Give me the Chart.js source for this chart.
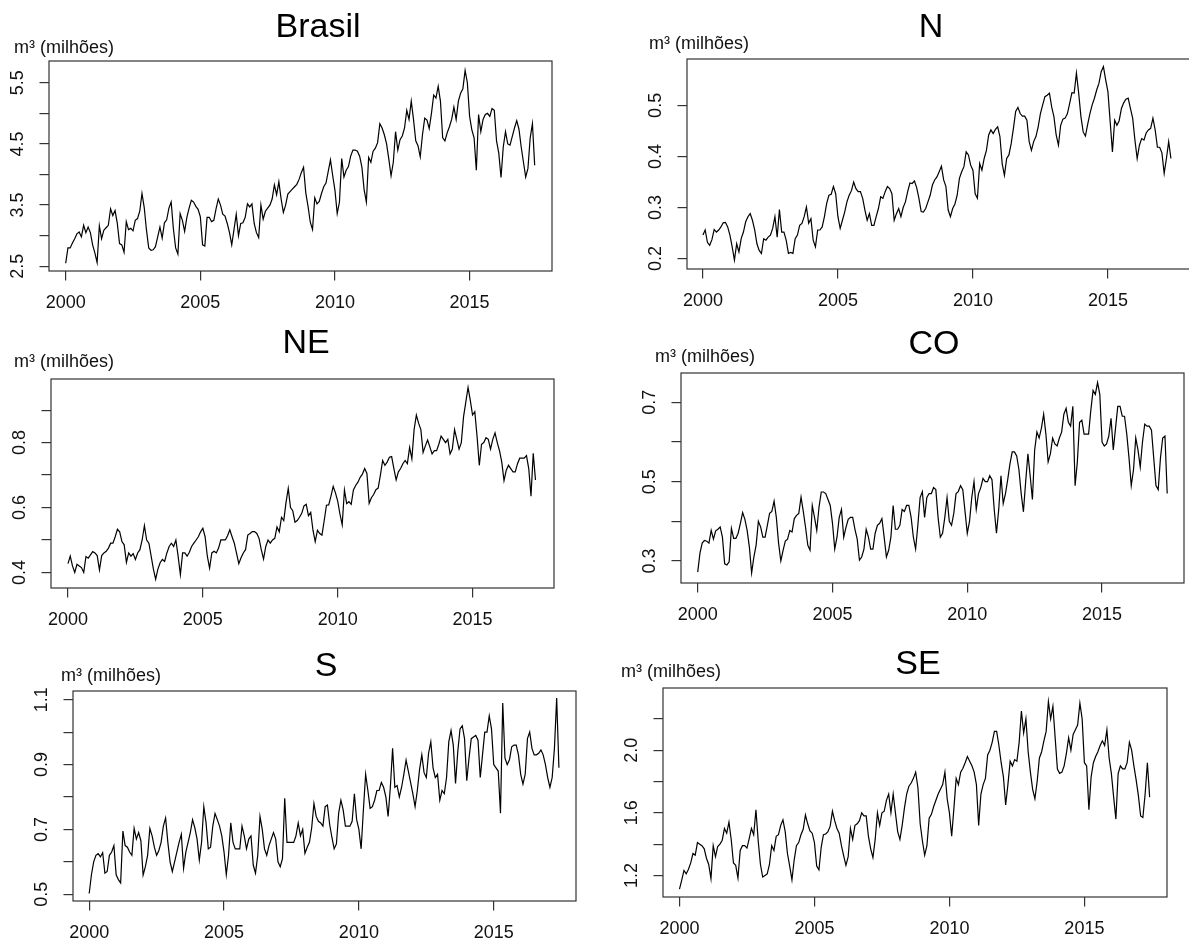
<!DOCTYPE html>
<html lang="pt-BR">
<head>
<meta charset="utf-8">
<title>Consumo mensal por região</title>
<script src="https://cdn.jsdelivr.net/npm/chart.js@4.4.1/dist/chart.umd.min.js"></script>
<style>
  html, body { margin: 0; background: #fff; }
  #page { position: relative; width: 1189px; height: 947px; overflow: hidden; background: #fff; }
  #page canvas { position: absolute; }
</style>
</head>
<body>
<div id="page"></div>
<script>
// séries mensais a partir de jan/2000, em milhões de m³
const START_YEAR = 2000;
const yearTicks = [2000, 2005, 2010, 2015];

const brasil = [
  2.55,2.80,2.80,2.88,2.95,3.03,3.06,2.98,3.17,3.05,3.14,3.05,
  2.85,2.72,2.56,3.16,2.95,3.09,3.13,3.17,3.44,3.33,3.41,3.20,
  2.87,2.85,2.73,3.23,3.10,3.12,3.08,3.25,3.28,3.40,3.69,3.46,
  3.09,2.80,2.76,2.77,2.82,2.98,3.14,2.96,3.21,3.26,3.45,3.55,
  3.11,2.80,2.70,3.36,3.25,3.07,3.30,3.45,3.58,3.55,3.48,3.43,
  3.31,2.85,2.83,3.30,3.30,3.23,3.25,3.44,3.60,3.50,3.35,3.32,
  3.20,3.05,2.85,3.10,3.35,3.00,3.20,3.21,3.30,3.52,3.47,3.52,
  3.20,3.05,2.97,3.50,3.27,3.40,3.45,3.50,3.60,3.83,3.67,3.88,
  3.60,3.38,3.50,3.68,3.72,3.76,3.80,3.84,3.92,4.03,4.12,3.70,
  3.48,3.22,3.10,3.62,3.52,3.56,3.69,3.80,3.86,4.05,4.24,3.98,
  3.74,3.36,3.55,4.26,3.96,4.07,4.13,4.30,4.40,4.40,4.38,4.30,
  4.12,3.75,3.55,4.28,4.20,4.38,4.43,4.52,4.83,4.76,4.65,4.50,
  4.25,3.98,4.20,4.70,4.40,4.57,4.63,4.76,5.05,4.90,5.20,4.90,
  4.55,4.47,4.29,4.65,4.92,4.89,4.75,5.00,5.30,5.25,5.44,5.20,
  4.60,4.55,4.68,4.78,4.90,5.10,4.90,5.20,5.33,5.40,5.70,5.50,
  4.95,4.73,4.60,4.07,4.98,4.70,4.90,4.98,5.00,4.95,5.08,5.05,
  4.55,4.35,3.95,4.45,4.70,4.50,4.48,4.62,4.76,4.88,4.74,4.45,
  4.20,3.96,4.10,4.60,4.83,4.15
];

const norte = [
  0.246,0.256,0.232,0.226,0.237,0.257,0.252,0.256,0.262,0.270,0.271,0.262,
  0.246,0.223,0.197,0.229,0.213,0.239,0.252,0.272,0.282,0.288,0.275,0.256,
  0.229,0.216,0.210,0.239,0.236,0.242,0.246,0.259,0.282,0.242,0.296,0.252,
  0.252,0.236,0.210,0.212,0.210,0.239,0.246,0.265,0.269,0.282,0.301,0.269,
  0.278,0.236,0.223,0.256,0.256,0.262,0.282,0.308,0.324,0.326,0.341,0.327,
  0.282,0.259,0.275,0.291,0.311,0.324,0.333,0.350,0.337,0.331,0.331,0.318,
  0.295,0.275,0.288,0.265,0.265,0.282,0.298,0.321,0.318,0.331,0.341,0.337,
  0.327,0.275,0.288,0.298,0.282,0.300,0.311,0.331,0.348,0.347,0.352,0.339,
  0.318,0.292,0.291,0.298,0.311,0.324,0.344,0.354,0.360,0.370,0.381,0.354,
  0.341,0.295,0.282,0.298,0.307,0.324,0.357,0.370,0.380,0.409,0.403,0.383,
  0.373,0.327,0.318,0.386,0.373,0.396,0.412,0.442,0.452,0.445,0.453,0.458,
  0.439,0.386,0.363,0.396,0.403,0.425,0.455,0.488,0.496,0.484,0.479,0.479,
  0.471,0.429,0.412,0.429,0.439,0.458,0.484,0.501,0.517,0.520,0.524,0.497,
  0.478,0.442,0.422,0.461,0.473,0.475,0.484,0.504,0.525,0.524,0.563,0.524,
  0.478,0.448,0.440,0.463,0.484,0.501,0.514,0.530,0.543,0.566,0.576,0.550,
  0.527,0.468,0.409,0.471,0.461,0.470,0.494,0.505,0.512,0.514,0.494,0.475,
  0.432,0.396,0.422,0.435,0.432,0.446,0.452,0.455,0.475,0.452,0.418,0.418,
  0.407,0.367,0.396,0.429,0.396
];

const nordeste = [
  0.427,0.450,0.420,0.400,0.425,0.420,0.415,0.400,0.449,0.444,0.454,0.464,
  0.460,0.452,0.408,0.452,0.460,0.465,0.475,0.490,0.490,0.510,0.533,0.525,
  0.495,0.485,0.431,0.460,0.450,0.458,0.440,0.460,0.470,0.500,0.544,0.500,
  0.490,0.450,0.410,0.379,0.410,0.430,0.440,0.434,0.460,0.480,0.490,0.480,
  0.500,0.450,0.393,0.460,0.460,0.450,0.462,0.480,0.490,0.500,0.510,0.525,
  0.536,0.510,0.450,0.413,0.460,0.465,0.460,0.475,0.500,0.500,0.500,0.513,
  0.531,0.510,0.490,0.459,0.427,0.445,0.460,0.470,0.515,0.520,0.526,0.526,
  0.520,0.505,0.470,0.441,0.480,0.500,0.490,0.500,0.505,0.540,0.525,0.570,
  0.560,0.615,0.659,0.600,0.590,0.555,0.560,0.570,0.582,0.605,0.610,0.575,
  0.585,0.530,0.495,0.530,0.520,0.515,0.560,0.607,0.608,0.635,0.665,0.645,
  0.620,0.580,0.547,0.654,0.612,0.618,0.610,0.654,0.668,0.678,0.693,0.703,
  0.720,0.705,0.613,0.630,0.640,0.655,0.660,0.700,0.745,0.730,0.740,0.755,
  0.757,0.720,0.685,0.710,0.720,0.735,0.745,0.735,0.785,0.750,0.840,0.885,
  0.860,0.840,0.770,0.790,0.808,0.787,0.765,0.775,0.775,0.795,0.820,0.810,
  0.800,0.810,0.765,0.780,0.840,0.810,0.780,0.800,0.880,0.925,0.970,0.930,
  0.885,0.895,0.820,0.730,0.795,0.800,0.815,0.810,0.780,0.810,0.830,0.800,
  0.775,0.740,0.683,0.715,0.730,0.720,0.710,0.710,0.735,0.752,0.752,0.752,
  0.760,0.720,0.635,0.767,0.685
];

const centroOeste = [
  0.272,0.320,0.345,0.352,0.350,0.345,0.377,0.355,0.376,0.380,0.386,0.360,
  0.293,0.290,0.298,0.382,0.357,0.357,0.370,0.395,0.422,0.405,0.377,0.335,
  0.270,0.310,0.340,0.400,0.386,0.360,0.360,0.390,0.420,0.425,0.451,0.410,
  0.345,0.300,0.327,0.350,0.355,0.377,0.373,0.407,0.415,0.420,0.461,0.425,
  0.385,0.340,0.327,0.440,0.410,0.377,0.436,0.474,0.474,0.470,0.455,0.440,
  0.395,0.330,0.360,0.410,0.430,0.360,0.385,0.405,0.410,0.410,0.380,0.355,
  0.302,0.310,0.330,0.380,0.360,0.330,0.330,0.370,0.390,0.395,0.407,0.360,
  0.310,0.327,0.360,0.440,0.380,0.380,0.390,0.430,0.425,0.440,0.440,0.410,
  0.360,0.330,0.390,0.460,0.475,0.410,0.460,0.470,0.470,0.485,0.480,0.410,
  0.360,0.370,0.410,0.460,0.400,0.390,0.420,0.470,0.475,0.490,0.480,0.425,
  0.370,0.400,0.460,0.500,0.430,0.470,0.485,0.508,0.500,0.500,0.515,0.505,
  0.430,0.370,0.430,0.515,0.445,0.470,0.505,0.545,0.575,0.575,0.565,0.530,
  0.470,0.424,0.500,0.570,0.515,0.455,0.580,0.625,0.610,0.635,0.670,0.620,
  0.550,0.570,0.610,0.595,0.590,0.610,0.625,0.670,0.685,0.650,0.640,0.690,
  0.490,0.550,0.650,0.655,0.620,0.620,0.620,0.680,0.730,0.720,0.750,0.720,
  0.600,0.590,0.595,0.615,0.660,0.580,0.635,0.690,0.690,0.665,0.665,0.620,
  0.560,0.490,0.530,0.610,0.580,0.537,0.600,0.645,0.640,0.640,0.630,0.560,
  0.490,0.480,0.560,0.610,0.615,0.470
];

const sul = [
  0.502,0.560,0.600,0.620,0.625,0.615,0.628,0.565,0.570,0.620,0.630,0.650,
  0.560,0.545,0.535,0.695,0.650,0.645,0.630,0.620,0.703,0.670,0.690,0.665,
  0.559,0.585,0.620,0.703,0.680,0.645,0.620,0.635,0.660,0.710,0.735,0.660,
  0.600,0.570,0.600,0.630,0.660,0.685,0.580,0.630,0.660,0.690,0.730,0.705,
  0.670,0.605,0.660,0.770,0.720,0.640,0.645,0.710,0.749,0.730,0.710,0.680,
  0.630,0.560,0.620,0.720,0.660,0.640,0.640,0.640,0.710,0.680,0.640,0.670,
  0.680,0.590,0.565,0.620,0.740,0.700,0.640,0.620,0.650,0.670,0.690,0.670,
  0.600,0.585,0.610,0.796,0.660,0.660,0.660,0.660,0.680,0.720,0.680,0.700,
  0.626,0.645,0.660,0.705,0.780,0.740,0.725,0.720,0.710,0.770,0.775,0.715,
  0.675,0.640,0.655,0.750,0.790,0.760,0.710,0.710,0.710,0.725,0.810,0.730,
  0.700,0.640,0.760,0.870,0.820,0.765,0.770,0.790,0.820,0.820,0.845,0.830,
  0.800,0.740,0.830,0.950,0.830,0.835,0.800,0.830,0.870,0.914,0.880,0.845,
  0.810,0.770,0.820,0.885,0.930,0.875,0.860,0.935,0.970,0.890,0.860,0.870,
  0.790,0.820,0.810,0.860,0.970,1.005,0.960,0.842,0.940,1.010,1.020,0.980,
  0.850,0.920,0.980,0.985,0.990,0.975,0.860,0.930,1.000,1.000,1.050,1.010,
  0.900,0.890,0.880,0.750,1.090,0.920,0.900,0.915,0.955,0.960,0.960,0.930,
  0.870,0.840,0.870,0.980,1.000,0.950,0.930,0.930,0.935,0.945,0.930,0.900,
  0.860,0.830,0.860,0.950,1.105,0.890
];

const sudeste = [
  1.113,1.170,1.232,1.210,1.240,1.280,1.340,1.330,1.410,1.400,1.390,1.370,
  1.310,1.270,1.180,1.390,1.320,1.385,1.400,1.425,1.500,1.470,1.540,1.430,
  1.280,1.265,1.183,1.360,1.390,1.390,1.375,1.435,1.500,1.460,1.620,1.420,
  1.270,1.190,1.200,1.210,1.270,1.390,1.360,1.450,1.460,1.520,1.555,1.480,
  1.340,1.260,1.172,1.300,1.390,1.410,1.460,1.495,1.586,1.530,1.485,1.470,
  1.410,1.260,1.236,1.380,1.460,1.465,1.480,1.515,1.610,1.550,1.500,1.470,
  1.390,1.325,1.265,1.320,1.500,1.430,1.520,1.530,1.550,1.600,1.580,1.580,
  1.450,1.370,1.315,1.430,1.600,1.520,1.600,1.610,1.680,1.720,1.600,1.720,
  1.600,1.480,1.430,1.520,1.630,1.720,1.770,1.790,1.820,1.860,1.760,1.530,
  1.420,1.330,1.390,1.565,1.590,1.640,1.680,1.720,1.750,1.780,1.860,1.690,
  1.600,1.450,1.630,1.820,1.780,1.860,1.885,1.920,1.960,1.930,1.900,1.860,
  1.780,1.520,1.720,1.780,1.820,1.970,2.000,2.050,2.120,2.120,2.030,1.920,
  1.830,1.650,1.780,1.930,1.900,1.940,1.930,2.050,2.250,2.110,2.200,1.990,
  1.860,1.750,1.690,1.800,1.950,1.990,2.060,2.120,2.310,2.200,2.280,2.080,
  1.880,1.852,1.860,1.900,1.980,2.080,2.000,2.100,2.130,2.160,2.300,2.200,
  1.920,1.900,1.620,1.830,1.920,1.960,1.990,2.030,2.060,2.030,2.130,1.950,
  1.850,1.700,1.560,1.850,1.900,1.880,1.880,1.920,2.050,2.000,1.900,1.810,
  1.710,1.580,1.570,1.720,1.920,1.700
];

// marcas do eixo y e quais delas recebem rótulo
const brasilTicks = [2.5, 3.0, 3.5, 4.0, 4.5, 5.0, 5.5];
const brasilLabels = [2.5, 3.5, 4.5, 5.5];
const norteTicks = [0.2, 0.3, 0.4, 0.5];
const norteLabels = [0.2, 0.3, 0.4, 0.5];
const nordesteTicks = [0.4, 0.5, 0.6, 0.7, 0.8, 0.9];
const nordesteLabels = [0.4, 0.6, 0.8];
const centroOesteTicks = [0.3, 0.4, 0.5, 0.6, 0.7];
const centroOesteLabels = [0.3, 0.5, 0.7];
const sulTicks = [0.5, 0.6, 0.7, 0.8, 0.9, 1.0, 1.1];
const sulLabels = [0.5, 0.7, 0.9, 1.1];
const sudesteTicks = [1.2, 1.4, 1.6, 1.8, 2.0, 2.2];
const sudesteLabels = [1.2, 1.6, 2.0];

const FONT = '"Liberation Sans", Arial, sans-serif';
const UNIT = 'm³ (milhões)';
const PAD = { left: 50, top: 50, right: 15, bottom: 50 };

// box = [esquerda, topo, direita, base] da área de plotagem na página
const panels = [
  { title: 'Brasil', values: brasil, ticks: brasilTicks, labels: brasilLabels,
    box: [49, 61, 552, 271], x: [1999.38, 2018.06], y: [2.423, 5.855],
    titleAt: [318, 37], unitAt: [14, 53] },
  { title: 'N', values: norte, ticks: norteTicks, labels: norteLabels,
    box: [687, 59, 1190, 269], x: [1999.41, 2018.04], y: [0.1796, 0.5908],
    titleAt: [931, 37], unitAt: [649, 49] },
  { title: 'NE', values: nordeste, ticks: nordesteTicks, labels: nordesteLabels,
    box: [51, 379, 554, 588], x: [1999.37, 2018.02], y: [0.352, 0.996],
    titleAt: [306, 353], unitAt: [14, 367] },
  { title: 'CO', values: centroOeste, ticks: centroOesteTicks, labels: centroOesteLabels,
    box: [681, 373, 1184, 583], x: [1999.38, 2018.04], y: [0.2445, 0.774],
    titleAt: [934, 354], unitAt: [655, 362] },
  { title: 'S', values: sul, ticks: sulTicks, labels: sulLabels,
    box: [73, 691, 576, 901], x: [1999.40, 2018.05], y: [0.479, 1.127],
    titleAt: [326, 676], unitAt: [61, 681] },
  { title: 'SE', values: sudeste, ticks: sudesteTicks, labels: sudesteLabels,
    box: [663, 688, 1167, 897], x: [1999.39, 2018.06], y: [1.0625, 2.397],
    titleAt: [918, 674], unitAt: [621, 677] }
];

// moldura, rótulos verticais do eixo y, título e unidade
function decor(p, ox, oy) {
  return {
    id: 'decor',
    afterDraw(chart) {
      const { ctx, chartArea: a, scales } = chart;
      ctx.save();
      ctx.strokeStyle = '#333';
      ctx.lineWidth = 1.2;
      ctx.strokeRect(a.left, a.top, a.right - a.left, a.bottom - a.top);

      ctx.fillStyle = '#111';
      ctx.font = '18px ' + FONT;
      ctx.textAlign = 'center';
      ctx.textBaseline = 'alphabetic';
      p.labels.forEach(v => {
        ctx.save();
        ctx.translate(a.left - 26, scales.y.getPixelForValue(v));
        ctx.rotate(-Math.PI / 2);
        ctx.fillText(v.toFixed(1), 0, 0);
        ctx.restore();
      });

      ctx.fillStyle = '#000';
      ctx.font = '34px ' + FONT;
      ctx.fillText(p.title, p.titleAt[0] - ox, p.titleAt[1] - oy);

      ctx.fillStyle = '#111';
      ctx.font = '18px ' + FONT;
      ctx.textAlign = 'left';
      ctx.fillText(UNIT, p.unitAt[0] - ox, p.unitAt[1] - oy);
      ctx.restore();
    }
  };
}

const page = document.getElementById('page');

panels.forEach(p => {
  const [l, t, r, b] = p.box;
  const ox = l - PAD.left, oy = t - PAD.top;
  const canvas = document.createElement('canvas');
  canvas.width = r - l + PAD.left + PAD.right;
  canvas.height = b - t + PAD.top + PAD.bottom;
  canvas.style.left = ox + 'px';
  canvas.style.top = oy + 'px';
  canvas.style.width = canvas.width + 'px';
  canvas.style.height = canvas.height + 'px';
  page.appendChild(canvas);

  new Chart(canvas, {
    type: 'line',
    data: {
      datasets: [{
        data: p.values.map((v, i) => ({ x: START_YEAR + i / 12, y: v })),
        borderColor: '#000',
        borderWidth: 1.2,
        pointRadius: 0,
        tension: 0,
        fill: false
      }]
    },
    options: {
      animation: false,
      responsive: false,
      devicePixelRatio: 1,
      layout: { padding: { left: 0, top: PAD.top, right: PAD.right, bottom: 0 } },
      plugins: { legend: { display: false }, tooltip: { enabled: false }, title: { display: false } },
      scales: {
        x: {
          type: 'linear',
          min: p.x[0],
          max: p.x[1],
          afterBuildTicks: s => { s.ticks = yearTicks.map(v => ({ value: v })); },
          afterFit: s => { s.height = PAD.bottom; },
          border: { display: false },
          grid: { drawOnChartArea: false, drawTicks: true, tickLength: 9.5, color: '#333', lineWidth: 1.2 },
          ticks: {
            autoSkip: false, maxRotation: 0, padding: 12, color: '#111',
            font: { family: FONT, size: 18 },
            callback: v => String(v)
          }
        },
        y: {
          type: 'linear',
          min: p.y[0],
          max: p.y[1],
          afterBuildTicks: s => { s.ticks = p.ticks.map(v => ({ value: v })); },
          afterFit: s => { s.width = PAD.left; },
          border: { display: false },
          grid: { drawOnChartArea: false, drawTicks: true, tickLength: 9.5, color: '#333', lineWidth: 1.2 },
          ticks: { display: false }
        }
      }
    },
    plugins: [decor(p, ox, oy)]
  });
});
</script>
</body>
</html>
